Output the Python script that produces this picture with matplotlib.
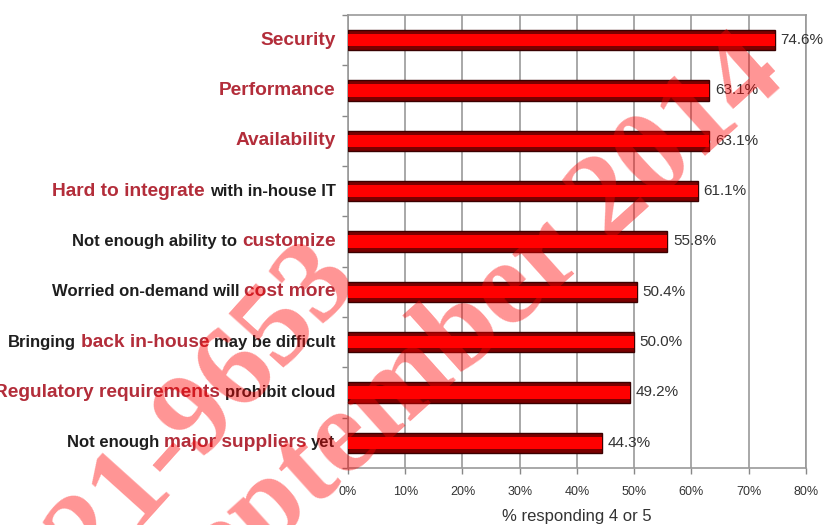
import matplotlib
matplotlib.use("Agg")
import matplotlib.pyplot as plt
from matplotlib.offsetbox import TextArea, HPacker, AnnotationBbox

plt.rcParams['font.family'] = ['Liberation Sans', 'DejaVu Sans']

# Daten (von oben nach unten)
label_parts = [
    [("Security", "r")],
    [("Performance", "r")],
    [("Availability", "r")],
    [("Hard to integrate", "r"), ("with in-house IT", "k")],
    [("Not enough ability to", "k"), ("customize", "r")],
    [("Worried on-demand will", "k"), ("cost more", "r")],
    [("Bringing", "k"), ("back in-house", "r"), ("may be difficult", "k")],
    [("Regulatory requirements", "r"), ("prohibit cloud", "k")],
    [("Not enough", "k"), ("major suppliers", "r"), ("yet", "k")],
]
values = [74.6, 63.1, 63.1, 61.1, 55.8, 50.4, 50.0, 49.2, 44.3]
x_ticks = [0, 10, 20, 30, 40, 50, 60, 70, 80]
x_label = "% responding 4 or 5"
watermark_1 = "21-9653"
watermark_2 = "September 2014"

red_text = '#b32d3a'
dark_text = '#1e1e1e'

fig = plt.figure(figsize=(8.24, 5.25), dpi=100)
ax = fig.add_axes([0.4223, 0.1086, 0.5558, 0.8629])

y = list(range(len(values)))

# Balken: dunkler Rand, heller Kern
ax.barh(y, values, height=0.40, color='#7a0000', edgecolor='#3a0000',
        linewidth=1.0, zorder=3)
ax.barh(y, values, height=0.24, color='#ff0000', linewidth=0, zorder=4)

for yi, v in zip(y, values):
    ax.annotate(f"{v:.1f}%", xy=(v, yi), xytext=(4, 0),
                textcoords='offset points', va='center', ha='left',
                fontsize=11, color='#333333', zorder=5)

ax.set_xlim(0, 80)
ax.set_ylim(8.5, -0.5)
ax.set_xticks(x_ticks)
ax.set_xticklabels([f"{t}%" for t in x_ticks], fontsize=9, color='#333333')
ax.tick_params(axis='x', length=4, width=1, color='#888888', pad=9)
ax.set_xlabel(x_label, fontsize=12, color='#333333', labelpad=8)

ax.set_yticks([])
ax.set_yticks([i - 0.5 for i in range(len(values) + 1)], minor=True)
ax.tick_params(axis='y', which='minor', length=4, width=1, color='#888888')
ax.set_yticklabels([], minor=True)

ax.grid(axis='x', color='#999999', linewidth=1.2, zorder=0)
ax.set_axisbelow(True)
for s in ax.spines.values():
    s.set_color('#999999')
    s.set_linewidth(1.2)

# mehrfarbige Kategorienbeschriftung
for yi, parts in zip(y, label_parts):
    areas = []
    for txt, c in parts:
        if c == "r":
            props = dict(fontsize=13.8, fontweight='bold', color=red_text)
        else:
            props = dict(fontsize=12, fontweight='bold', color=dark_text)
        areas.append(TextArea(txt, textprops=props))
    box = HPacker(children=areas, align='baseline', pad=0, sep=3.5)
    ab = AnnotationBbox(box, xy=(0, yi), xycoords=ax.get_yaxis_transform(),
                        xybox=(-9, 0), boxcoords='offset points',
                        box_alignment=(1, 0.5), frameon=False,
                        annotation_clip=False, zorder=5)
    ax.add_artist(ab)

# Wasserzeichen
fig.text(205 / 824, 1 - 408 / 525, watermark_1, fontsize=86,
         family='Liberation Serif', fontweight='bold', color='#ff0000',
         alpha=0.42, rotation=48, rotation_mode='anchor',
         ha='center', va='center', zorder=10)
fig.text(462 / 824, 1 - 336 / 525, watermark_2, fontsize=87,
         family='Liberation Serif', fontweight='bold', color='#ff0000',
         alpha=0.42, rotation=42, rotation_mode='anchor',
         ha='center', va='center', zorder=10)

fig.savefig("out.png", dpi=100)
